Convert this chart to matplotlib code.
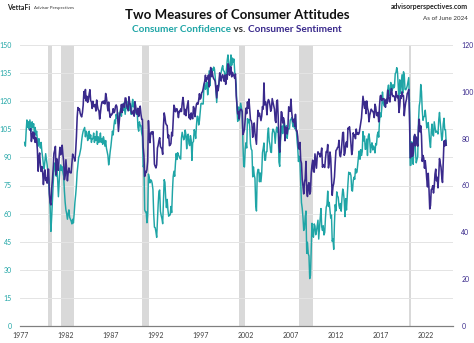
import numpy as np
import pandas as pd
import matplotlib
matplotlib.use("Agg")
import matplotlib.pyplot as plt
from matplotlib.ticker import MultipleLocator

plt.rcParams['font.family'] = ['Lato', 'DejaVu Sans']

TEAL = "#1fa5a6"
PURPLE = "#3a2a8c"

# Conference Board Consumer Confidence, monthly from Jun 1977 (left axis)
confidence = [
    98, 96, 104, 110, 106, 109, 105,                                    # 1977 Jun-Dec
    110, 107, 104, 109, 106, 108, 103, 106, 102, 104, 99, 96,            # 1978
    100, 97, 95, 98, 93, 90, 86, 84, 88, 92, 89, 86,                     # 1979
    82, 78, 70, 63, 50.5, 58, 67, 76, 84, 87, 83, 80,                    # 1980
    84, 78, 69, 76, 84, 86, 83, 85, 82, 80, 72, 66,                      # 1981
    62, 60, 57, 60, 62, 58, 57, 56, 54.5, 57, 55, 60,                    # 1982
    66, 70, 75, 82, 86, 90, 91, 93, 95, 99, 102, 104,                    # 1983
    105, 106, 101, 104, 103, 99, 101, 104, 100, 102, 98, 100,            # 1984
    100, 103, 98, 101, 99, 104, 97, 101, 98, 100, 103, 98,               # 1985
    100, 97, 101, 99, 96, 99, 95, 93, 91, 86, 89, 93,                    # 1986
    96, 100, 104, 102, 107, 110, 108, 113, 111, 114, 108, 111,           # 1987
    114, 116, 112, 118, 115, 119, 116, 113, 117, 120, 116, 118,          # 1988
    115, 119, 117, 113, 118, 121, 117, 119, 114, 116, 113, 115,          # 1989
    106, 104, 109, 107, 107, 103, 101, 85, 86, 62, 61, 61,               # 1990
    55.1, 59.4, 81.1, 79.4, 76.4, 78.0, 77.7, 76.1, 72.9, 60.1, 52.7, 52.5,
    50.2, 47.3, 56.5, 65.1, 71.9, 72.6, 61.2, 59.0, 57.3, 54.6, 65.6, 78.1,
    76.7, 68.5, 63.2, 67.6, 61.9, 58.6, 59.2, 59.3, 63.8, 60.5, 71.9, 79.8,
    82.6, 79.9, 86.7, 92.1, 88.9, 92.5, 91.3, 90.4, 89.5, 89.1, 100.4, 103.4,
    101.4, 99.4, 100.2, 104.6, 102.0, 94.6, 101.4, 102.4, 97.3, 96.3, 101.6, 99.2,
    88.4, 98.0, 98.4, 104.8, 103.5, 100.1, 107.0, 112.0, 111.8, 107.3, 109.5, 114.2,
    118.7, 118.9, 118.5, 118.5, 127.9, 129.9, 126.3, 127.6, 130.2, 123.4, 128.1, 136.2,
    128.3, 137.4, 133.8, 137.2, 136.3, 138.2, 137.2, 133.1, 126.4, 119.3, 126.4, 126.7,
    128.9, 133.1, 134.0, 135.5, 137.7, 139.0, 136.2, 136.0, 134.2, 130.5, 137.0, 141.7,
    144.7, 140.8, 137.1, 137.7, 144.7, 139.2, 143.0, 140.8, 142.5, 135.8, 132.6, 128.6,
    115.7, 109.2, 116.9, 109.9, 116.1, 118.9, 116.3, 114.0, 97.0, 85.3, 84.9, 94.6,
    97.8, 95.0, 110.7, 108.5, 110.3, 106.3, 97.4, 94.5, 93.7, 79.6, 84.9, 80.7,
    78.8, 64.8, 61.4, 81.0, 83.6, 83.5, 77.0, 81.7, 77.0, 81.7, 92.5, 94.8,
    97.7, 88.5, 88.5, 93.0, 93.1, 102.8, 105.7, 98.7, 96.7, 92.9, 92.6, 102.7,
    105.1, 104.4, 103.0, 97.5, 103.1, 106.2, 103.6, 105.5, 87.5, 85.2, 98.3, 103.8,
    106.8, 102.7, 107.5, 109.8, 104.7, 105.4, 107.0, 100.2, 104.5, 105.4, 105.3, 110.0,
    110.2, 111.2, 108.2, 106.3, 108.5, 105.3, 111.9, 105.6, 99.5, 95.2, 87.8, 90.6,
    87.3, 76.4, 65.9, 62.8, 58.1, 51.0, 51.9, 58.5, 61.4, 38.8, 44.7, 38.6,
    37.4, 25.3, 26.9, 40.8, 54.8, 49.3, 47.4, 54.5, 53.4, 48.7, 50.6, 53.6,
    56.5, 46.4, 52.3, 57.7, 62.7, 52.9, 51.0, 53.5, 48.6, 49.9, 57.8, 63.4,
    64.8, 72.0, 63.8, 66.0, 61.7, 57.6, 59.2, 45.2, 46.4, 40.9, 55.2, 64.8,
    61.5, 71.6, 69.5, 68.7, 64.4, 62.7, 65.4, 61.3, 68.4, 73.1, 71.5, 66.7,
    58.4, 68.0, 61.9, 69.0, 76.2, 82.1, 81.0, 81.8, 80.2, 72.4, 72.0, 77.5,
    79.4, 78.3, 83.9, 81.7, 82.2, 86.4, 90.3, 93.4, 89.0, 94.1, 91.0, 93.1,
    103.8, 98.8, 101.4, 94.3, 94.6, 99.8, 91.0, 101.3, 102.6, 99.1, 92.6, 96.3,
    97.8, 94.0, 96.1, 94.7, 92.4, 97.4, 96.7, 101.8, 103.5, 100.8, 109.4, 113.7,
    111.6, 116.1, 124.9, 119.4, 117.6, 117.3, 120.0, 120.4, 120.6, 126.2, 128.6, 123.1,
    124.3, 130.0, 127.0, 125.6, 128.8, 127.1, 127.9, 134.7, 135.3, 137.9, 135.7, 128.1,
    120.2, 131.4, 124.2, 129.2, 134.1, 124.3, 135.7, 134.2, 126.3, 126.1, 126.8, 128.2,
    130.4, 132.6, 118.8, 85.7, 85.9, 98.3, 91.7, 86.3, 101.3, 101.4, 92.9, 87.1,
    88.9, 90.4, 109.0, 117.5, 120.0, 128.9, 125.1, 115.2, 109.8, 111.6, 111.9, 115.2,
    111.1, 105.7, 107.6, 108.6, 103.2, 98.4, 95.3, 103.6, 107.8, 102.2, 101.4, 109.0,
    106.0, 103.4, 104.0, 103.7, 102.5, 110.1, 114.0, 108.7, 104.3, 99.1, 101.0, 108.0,
    110.9, 104.8, 104.7, 97.5,                                           # 2024 Jan-Apr
]

# University of Michigan Consumer Sentiment, monthly from Jan 1978 (right axis)
sentiment = [
    83.7, 84.3, 78.8, 81.6, 82.9, 80.0, 82.4, 78.4, 80.4, 79.3, 75.0, 66.1,
    72.1, 73.9, 68.4, 66.0, 68.1, 65.8, 60.4, 64.5, 66.7, 62.1, 63.3, 61.0,
    67.0, 66.9, 56.5, 52.7, 51.7, 58.7, 62.3, 67.3, 73.7, 75.0, 76.7, 64.5,
    71.4, 66.9, 66.5, 72.4, 76.3, 73.1, 74.1, 77.2, 73.1, 70.3, 62.5, 64.3,
    71.0, 66.5, 62.0, 65.5, 67.5, 65.7, 65.4, 65.4, 69.3, 73.4, 72.1, 71.9,
    70.4, 74.6, 80.8, 89.1, 93.3, 92.2, 92.8, 90.9, 89.9, 89.3, 91.1, 94.2,
    100.1, 97.4, 101.0, 96.1, 98.1, 95.5, 96.6, 99.1, 100.9, 96.3, 95.7, 92.9,
    96.0, 93.7, 93.7, 94.6, 91.8, 96.5, 94.0, 92.4, 92.1, 88.4, 90.9, 93.9,
    95.6, 95.9, 95.1, 96.2, 94.8, 99.3, 97.7, 94.9, 91.9, 95.6, 91.4, 89.1,
    90.4, 90.2, 90.8, 92.8, 91.1, 91.5, 93.7, 94.4, 93.6, 89.3, 83.1, 86.8,
    90.8, 91.6, 94.6, 91.2, 94.8, 94.7, 93.4, 97.4, 97.3, 94.1, 93.0, 91.9,
    97.9, 95.4, 94.3, 91.5, 90.7, 90.6, 92.0, 89.6, 95.8, 93.9, 90.9, 90.5,
    93.0, 89.5, 91.3, 93.9, 90.6, 88.3, 88.2, 76.4, 72.8, 63.9, 66.0, 65.5,
    66.8, 70.4, 87.7, 81.8, 78.3, 82.1, 82.9, 82.0, 83.0, 78.3, 69.1, 68.2,
    67.5, 68.8, 76.0, 77.2, 79.2, 80.4, 76.6, 76.1, 75.6, 73.3, 85.3, 91.0,
    89.3, 86.6, 85.9, 85.6, 80.3, 81.5, 77.0, 77.3, 77.9, 82.7, 81.2, 88.2,
    94.3, 93.2, 91.5, 92.6, 92.8, 91.2, 89.0, 91.7, 91.5, 92.7, 91.6, 95.1,
    97.6, 95.1, 90.3, 92.5, 89.8, 92.7, 94.4, 96.2, 88.9, 90.2, 88.2, 91.0,
    89.3, 88.5, 93.7, 92.7, 89.4, 92.4, 94.7, 95.3, 94.7, 96.5, 99.2, 96.9,
    97.4, 99.7, 100.0, 101.4, 103.2, 104.5, 107.1, 104.4, 106.0, 105.6, 107.2, 102.1,
    106.6, 110.4, 106.5, 108.7, 106.5, 105.6, 105.2, 104.4, 100.9, 97.4, 102.7, 100.5,
    103.9, 108.1, 105.7, 104.6, 106.8, 107.3, 106.0, 104.5, 107.2, 103.2, 107.2, 105.4,
    112.0, 111.3, 107.1, 109.2, 110.7, 106.4, 108.3, 107.3, 106.8, 105.8, 107.6, 98.4,
    94.7, 90.6, 91.5, 88.4, 92.0, 92.6, 92.4, 91.5, 81.8, 82.7, 83.9, 88.8,
    93.0, 90.7, 95.7, 93.0, 96.9, 92.4, 88.1, 87.6, 86.1, 80.6, 84.2, 86.7,
    82.4, 79.9, 77.6, 86.0, 92.1, 89.7, 90.9, 89.3, 87.7, 89.6, 93.7, 92.6,
    103.8, 94.4, 95.8, 94.2, 90.2, 95.6, 96.7, 95.9, 94.2, 91.7, 92.8, 97.1,
    95.5, 94.1, 92.6, 87.7, 86.9, 96.0, 96.5, 89.1, 76.9, 74.2, 81.6, 91.5,
    91.2, 86.7, 88.9, 87.4, 79.1, 84.9, 84.7, 82.0, 85.4, 93.6, 92.1, 91.7,
    96.9, 91.3, 88.4, 87.1, 88.3, 85.3, 90.4, 83.4, 83.4, 80.9, 76.1, 75.5,
    78.4, 70.8, 69.5, 62.6, 59.8, 56.4, 61.2, 63.0, 70.3, 57.6, 55.3, 60.1,
    61.2, 56.3, 57.3, 65.1, 68.7, 70.8, 66.0, 65.7, 73.5, 70.6, 67.4, 72.5,
    74.4, 73.6, 73.6, 72.2, 73.6, 76.0, 67.8, 68.9, 68.2, 67.7, 71.6, 74.5,
    74.2, 77.5, 67.5, 69.8, 74.3, 71.5, 63.7, 55.8, 59.5, 60.8, 63.7, 69.9,
    75.0, 75.3, 76.2, 76.4, 79.3, 73.2, 72.3, 74.3, 78.3, 82.6, 82.7, 72.9,
    73.8, 77.6, 78.6, 76.4, 84.5, 84.1, 85.1, 82.1, 77.5, 73.2, 75.1, 82.5,
    81.2, 81.6, 80.0, 84.1, 81.9, 82.5, 81.8, 82.5, 84.6, 86.9, 88.8, 93.6,
    98.1, 95.4, 93.0, 95.9, 90.7, 96.1, 93.1, 91.9, 87.2, 90.0, 91.3, 92.6,
    92.0, 91.7, 91.0, 89.0, 94.7, 93.5, 90.0, 89.8, 91.2, 87.2, 93.8, 98.2,
    98.5, 96.3, 96.9, 97.0, 97.1, 95.0, 93.4, 96.8, 95.1, 100.7, 98.5, 95.9,
    95.7, 99.7, 101.4, 98.8, 98.0, 98.2, 97.9, 96.2, 100.1, 98.6, 97.5, 98.3,
    91.2, 93.8, 98.4, 97.2, 100.0, 98.2, 98.4, 89.8, 93.2, 95.5, 96.8, 99.3,
    99.8, 101.0, 89.1, 71.8, 72.3, 78.1, 72.5, 74.1, 80.4, 81.8, 76.9, 80.7,
    79.0, 76.8, 84.9, 88.3, 82.9, 85.5, 81.2, 70.3, 72.8, 71.7, 67.4, 70.6,
    67.2, 62.8, 59.4, 65.2, 58.4, 50.0, 51.5, 58.2, 58.6, 59.9, 56.8, 59.7,
    64.9, 67.0, 62.0, 63.5, 59.0, 64.4, 71.5, 69.5, 67.9, 63.8, 61.3, 69.7,
    79.0, 76.9, 79.4, 77.2,                                              # 2024 Jan-Apr
]

# NBER recessions (start, end) in decimal years
recessions = [(1980.0, 1980.5), (1981.5, 1982.9), (1990.5, 1991.2),
              (2001.2, 2001.9), (2007.9, 2009.5), (2020.1, 2020.3)]

year_ticks = [1977, 1982, 1987, 1992, 1997, 2002, 2007, 2012, 2017, 2022]


def decimal_years(start, n):
    d = pd.date_range(start, periods=n, freq="MS")
    return d.year + (d.month - 1) / 12.0


x_conf = decimal_years("1977-06-01", len(confidence))
x_sent = decimal_years("1978-01-01", len(sentiment))

fig = plt.figure(figsize=(4.74, 3.43), dpi=100)
ax = fig.add_axes([20 / 474, 17 / 343, 433 / 474, 281 / 343])
ax2 = ax.twinx()

for a, b in recessions:
    ax.axvspan(a, b, color="#d9d9d9", lw=0, zorder=0)

ax.plot(x_conf, confidence, color=TEAL, lw=1.05, zorder=3)
ax2.plot(x_sent, sentiment, color=PURPLE, lw=1.15, zorder=4)

ax.set_xlim(1976.9, 2025.0)
ax.set_ylim(0, 150)
ax2.set_ylim(0, 120)
ax.yaxis.set_major_locator(MultipleLocator(15))
ax2.yaxis.set_major_locator(MultipleLocator(20))
ax.set_xticks(year_ticks)
ax.set_xticklabels([str(y) for y in year_ticks])

ax.grid(True, axis="y", color="#e4e4e4", lw=0.7)
ax.set_axisbelow(True)
for a in (ax, ax2):
    for s in ("top", "left", "right"):
        a.spines[s].set_visible(False)
    a.spines["bottom"].set_color("#7f7f7f")
    a.spines["bottom"].set_linewidth(0.8)

ax.tick_params(axis="x", length=0, labelsize=5, colors="#404040", pad=4)
ax.tick_params(axis="y", length=0, labelsize=5, labelcolor=TEAL, pad=6)
ax2.tick_params(axis="y", length=0, labelsize=5, labelcolor=PURPLE, pad=6)

# titles
fig.text(0.5, 1 - 15 / 343, "Two Measures of Consumer Attitudes", ha="center", va="center",
         fontsize=9.5, fontweight="bold", color="#111111")
sub_y = 1 - 29 / 343
parts = [("Consumer Confidence", TEAL), (" vs. ", "#333333"), ("Consumer Sentiment", PURPLE)]
fig.canvas.draw()
renderer = fig.canvas.get_renderer()
texts = []
total = 0
for s, c in parts:
    t = fig.text(0, sub_y, s, fontsize=7.2, fontweight="bold", color=c, va="center")
    w = t.get_window_extent(renderer).width
    texts.append((t, w))
    total += w
xpos = (474 - total) / 2
for t, w in texts:
    t.set_x(xpos / 474)
    xpos += w

fig.text(7 / 474, 1 - 8 / 343, "VettaFi", fontsize=5, fontweight="bold", color="#222222", va="center")
fig.text(34 / 474, 1 - 8 / 343, "Advisor Perspectives", fontsize=3.2, color="#333333", va="center")
fig.text(468 / 474, 1 - 7 / 343, "advisorperspectives.com", fontsize=5, fontweight="bold",
         color="#222222", ha="right", va="center")
fig.text(468 / 474, 1 - 18 / 343, "As of June 2024", fontsize=4.5, color="#333333",
         ha="right", va="center")

fig.savefig("out.png", dpi=100)
